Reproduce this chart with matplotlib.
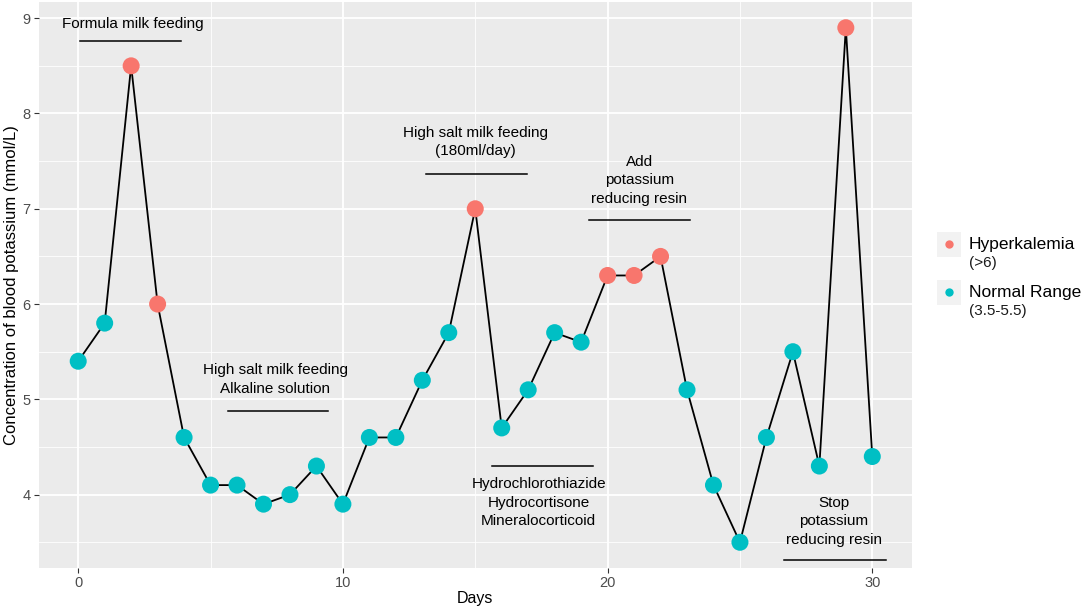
import matplotlib
matplotlib.use("Agg")
import matplotlib.pyplot as plt
from matplotlib.patches import Rectangle
from matplotlib.lines import Line2D
import numpy as np

plt.rcParams['font.family'] = ['Liberation Sans', 'DejaVu Sans']

days = list(range(31))
potassium = [5.4, 5.8, 8.5, 6.0, 4.6, 4.1, 4.1, 3.9, 4.0, 4.3, 3.9,
             4.6, 4.6, 5.2, 5.7, 7.0, 4.7, 5.1, 5.7, 5.6, 6.3,
             6.3, 6.5, 5.1, 4.1, 3.5, 4.6, 5.5, 4.3, 8.9, 4.4]
status = ['N', 'N', 'H', 'H', 'N', 'N', 'N', 'N', 'N', 'N', 'N',
          'N', 'N', 'N', 'N', 'H', 'N', 'N', 'N', 'N', 'H',
          'H', 'H', 'N', 'N', 'N', 'N', 'N', 'N', 'H', 'N']
legend_labels = ['Hyperkalemia', 'Normal Range']
legend_sub = ['(>6)', '(3.5-5.5)']
colors = {'H': '#F8766D', 'N': '#00BFC4'}

# annotations: text, text centre x, text centre y, segment x0, x1, segment y
ann_text = ['Formula milk feeding',
            'High salt milk feeding\nAlkaline solution',
            'High salt milk feeding\n(180ml/day)',
            'Add\npotassium\nreducing resin',
            'Hydrochlorothiazide\nHydrocortisone\nMineralocorticoid',
            'Stop\npotassium\nreducing resin']
ann_tx = [2.05, 7.45, 15.0, 21.2, 17.4, 28.55]
ann_ty = [8.94, 5.21, 7.70, 7.30, 3.915, 3.72]
seg_x0 = [0.05, 5.65, 13.15, 19.3, 15.65, 26.65]
seg_x1 = [3.9, 9.45, 16.95, 23.1, 19.45, 30.5]
seg_y = [8.76, 4.88, 7.37, 6.88, 4.30, 3.31]

W, H = 1084, 610
fig = plt.figure(figsize=(W / 100, H / 100), dpi=100)
ax = fig.add_axes([38.5 / W, (H - 568) / H, (912 - 38.5) / W, (568 - 2) / H])
ax.set_facecolor('#EBEBEB')
for s in ax.spines.values():
    s.set_visible(False)

ax.set_xlim(-1.5, 31.5)
ax.set_ylim(3.23, 9.17)
ax.set_xticks([0, 10, 20, 30])
ax.set_yticks([4, 5, 6, 7, 8, 9])
ax.set_xticks([5, 15, 25], minor=True)
ax.set_yticks([3.5, 4.5, 5.5, 6.5, 7.5, 8.5], minor=True)
ax.grid(True, which='major', color='white', linewidth=1.3)
ax.grid(True, which='minor', color='white', linewidth=0.6)
ax.set_axisbelow(True)
ax.tick_params(which='major', length=3.5, width=0.8, color='#333333',
               labelcolor='#4D4D4D', labelsize=10.5, pad=2)
ax.tick_params(which='minor', length=0)

ax.plot(days, potassium, color='black', linewidth=1.3, zorder=2)
ax.scatter(days, potassium, c=[colors[s] for s in status], s=150,
           linewidths=0, zorder=3)

for t, tx, ty, x0, x1, sy in zip(ann_text, ann_tx, ann_ty, seg_x0, seg_x1, seg_y):
    ax.text(tx, ty, t, ha='center', va='center', multialignment='center',
            fontsize=11, linespacing=1.4, color='black', zorder=4)
    ax.plot([x0, x1], [sy, sy], color='black', linewidth=1.1, zorder=4)

ax.set_xlabel('Days', fontsize=11.5, labelpad=1)
ax.set_ylabel('Concentration of blood potassium (mmol/L)', fontsize=12, labelpad=3)

# legend
key_x, key_w = 936.5, 24.5
key_tops = [232, 280]
for lab, sub, key, top in zip(legend_labels, legend_sub, ['H', 'N'], key_tops):
    fig.add_artist(Rectangle((key_x / W, 1 - (top + key_w) / H), key_w / W, key_w / H,
                             transform=fig.transFigure, facecolor='#F2F2F2',
                             edgecolor='none'))
    fig.add_artist(Line2D([(key_x + key_w / 2) / W], [1 - (top + key_w / 2) / H],
                          transform=fig.transFigure, marker='o', markersize=6,
                          markerfacecolor=colors[key], markeredgewidth=0,
                          linestyle='none'))
    fig.text(969 / W, 1 - (top + 12) / H, lab, fontsize=12.5, va='center', ha='left')
    fig.text(969 / W, 1 - (top + 31) / H, sub, fontsize=11, va='center', ha='left',
             color='#1a1a1a')

fig.savefig('out.png', dpi=100)
